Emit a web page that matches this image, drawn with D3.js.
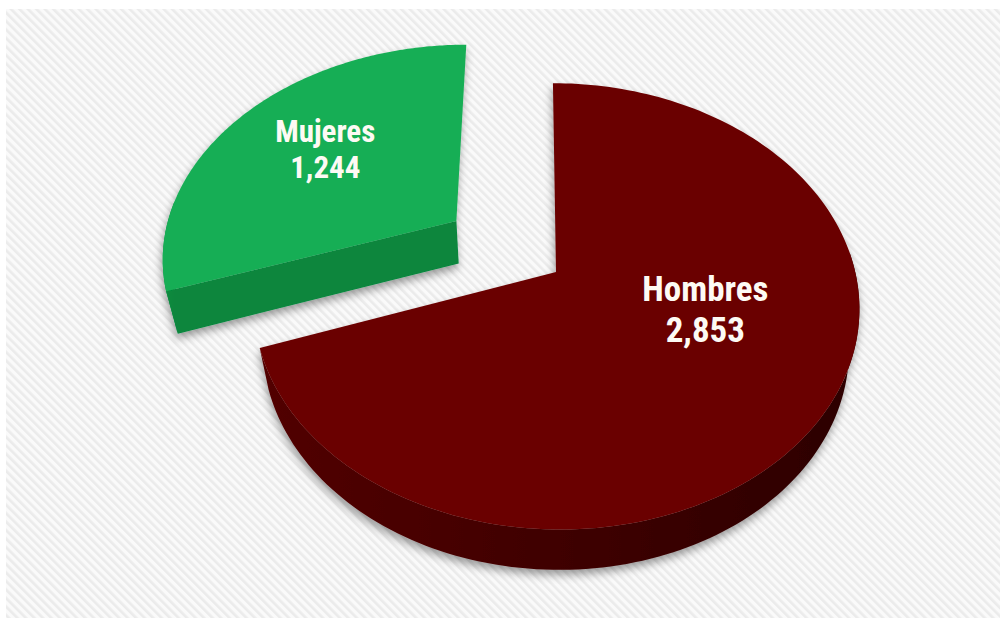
<!DOCTYPE html>
<html>
<head>
<meta charset="utf-8">
<script src="https://cdn.jsdelivr.net/npm/d3@7"></script>
<style>
  html, body { margin: 0; padding: 0; background: #fff; }
  svg { display: block; }
</style>
</head>
<body>
<script>
// data
var categories = ["Hombres", "Mujeres"];
var values = [2853, 1244];

// look
var topColors = ["#6b0000", "#18ae55"];
var wallLight = ["#520000", "#088d40"];
var wallDark = ["#2c0000", "#07863d"];
var explode = [0, 0.42];
var labelSize = [35, 31];
var labelNudge = [[7, -35], [-11, -10]];

var w = 1000, h = 618;

// 3d camera (pie radius = 1 world unit)
var D = 4.545, fx = 1360, fy = 1386, x0 = 533, y0 = 272;
var elev = 45.6 * Math.PI / 180, cosE = Math.cos(elev), sinE = Math.sin(elev);
var Xp = 0.0769, H = 0.205;

function project(X, Y, Z) {
  var yc = Y * cosE - Z * sinE;
  var dc = D - Z * cosE - Y * sinE;
  return [x0 + fx * X / dc, y0 - fy * yc / dc];
}
function pt(a, r, Y, off) {
  return project(Xp + off[0] + r * Math.sin(a), Y, off[1] - r * Math.cos(a));
}

var svg = d3.select("body").append("svg")
  .attr("width", w)
  .attr("height", h);

var defs = svg.append("defs");
var pat = defs.append("pattern")
  .attr("id", "stripes")
  .attr("width", 6).attr("height", 6)
  .attr("patternUnits", "userSpaceOnUse")
  .attr("patternTransform", "rotate(-45)");
pat.append("rect").attr("width", 6).attr("height", 6).attr("fill", "#fafafa");
pat.append("rect").attr("width", 2.6).attr("height", 6).attr("fill", "#ebebeb");

var f = defs.append("filter").attr("id", "shadow")
  .attr("x", "-20%").attr("y", "-20%").attr("width", "140%").attr("height", "140%");
f.append("feDropShadow")
  .attr("dx", -1).attr("dy", 5)
  .attr("stdDeviation", 4.5)
  .attr("flood-color", "#000")
  .attr("flood-opacity", 0.38);

svg.append("rect").attr("width", w).attr("height", h).attr("fill", "#fff");
svg.append("rect")
  .attr("x", 6).attr("y", 9)
  .attr("width", w - 6).attr("height", h - 9)
  .attr("fill", "url(#stripes)");

var pie = d3.pie().sort(null).value(function(d) { return d; });
var arcs = pie(values);

var line = d3.line();
var order = d3.range(arcs.length).sort(function(a, b) {
  return explode[b] - explode[a];
});

order.forEach(function(i) {
  var d = arcs[i];
  var mid = (d.startAngle + d.endAngle) / 2;
  var off = [explode[i] * Math.sin(mid), -explode[i] * Math.cos(mid)];
  var g = svg.append("g").attr("filter", "url(#shadow)");
  var steps = d3.range(0, 181).map(function(k) {
    return d.startAngle + (d.endAngle - d.startAngle) * k / 180;
  });

  // radial cut faces that turn toward the viewer
  [[d.startAngle, -1], [d.endAngle, 1]].forEach(function(fa) {
    var n = fa[0] + fa[1] * Math.PI / 2;
    if (-Math.cos(n) < 0.05) return;
    var a = fa[0];
    var face = [pt(a, 0, 0, off), pt(a, 1, 0, off), pt(a, 1, -H, off), pt(a, 0, -H, off)];
    g.append("path")
      .attr("d", line(face) + "Z")
      .attr("fill", wallDark[i]);
  });

  // outer wall (front part only), lighter on the left
  var front = steps.filter(function(a) { return Math.cos(a) < 0.1; });
  var wTop = front.map(function(a) { return pt(a, 1, 0, off); });
  var wBot = front.map(function(a) { return pt(a, 1, -H, off); }).reverse();
  var xs = d3.extent(wTop, function(p) { return p[0]; });
  var gid = "wall" + i;
  var grad = defs.append("linearGradient").attr("id", gid)
    .attr("gradientUnits", "userSpaceOnUse")
    .attr("x1", xs[0]).attr("x2", xs[1]).attr("y1", 0).attr("y2", 0);
  grad.append("stop").attr("offset", "0%").attr("stop-color", wallLight[i]);
  grad.append("stop").attr("offset", "100%").attr("stop-color", wallDark[i]);
  g.append("path")
    .attr("d", line(wTop.concat(wBot)) + "Z")
    .attr("fill", "url(#" + gid + ")");

  // top face
  var top = steps.map(function(a) { return pt(a, 1, 0, off); });
  g.append("path")
    .attr("d", line([pt(0, 0, 0, off)].concat(top)) + "Z")
    .attr("fill", topColors[i]);

  // label
  var lp = pt(mid, 0.55, 0, off);
  var lx = lp[0] + labelNudge[i][0], ly = lp[1] + labelNudge[i][1];
  var t = svg.append("text")
    .attr("x", lx).attr("y", ly)
    .attr("text-anchor", "middle")
    .attr("font-family", "'Liberation Sans Narrow', 'Arial Narrow', 'Roboto Condensed', sans-serif")
    .attr("font-stretch", "condensed")
    .attr("font-weight", "bold")
    .attr("font-size", labelSize[i])
    .attr("fill", "#fdfaf4");
  t.append("tspan").attr("x", lx).attr("dy", "-0.25em").text(categories[i]);
  t.append("tspan").attr("x", lx).attr("dy", "1.18em").text(d3.format(",")(values[i]));
});
</script>
</body>
</html>
